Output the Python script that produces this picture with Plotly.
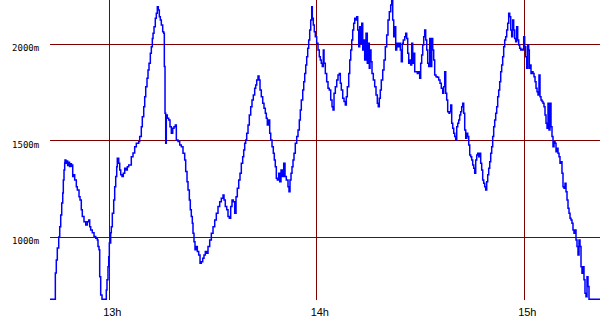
import plotly.graph_objects as go

# time in minutes after 12:00, altitude in metres
minutes = [42.85,44.01,44.39,44.67,44.96,45.37,45.66,45.95,46.24,46.53,46.70,46.90,47.10,47.19,47.45,47.70,47.95,48.20,48.50,48.80,49.05,49.21,49.42,49.79,49.99,50.46,50.75,51.24,51.53,51.90,52.19,52.68,53.18,53.64,54.04,54.33,54.62,55.08,55.58,56.07,56.53,56.73,57.02,57.22,57.51,57.89,58.47,58.84,59.13,59.33,59.62,59.83,60.00,60.40,60.58,60.87,61.27,61.56,61.85,62.14,62.31,62.72,63.01,63.30,63.67,64.05,64.45,64.83,65.21,65.61,65.99,66.36,66.85,67.34,67.81,68.50,68.79,69.25,69.54,69.95,70.24,70.53,70.90,71.19,71.48,71.86,72.15,72.44,72.64,72.93,73.30,73.59,73.88,74.17,74.46,74.75,75.04,75.44,75.73,75.91,76.11,76.31,76.48,76.77,77.18,77.55,77.93,78.33,78.71,79.09,79.38,79.87,80.36,80.82,81.31,81.80,82.09,82.47,82.76,83.14,83.42,83.71,84.00,84.20,84.49,84.78,85.16,85.45,85.85,86.23,86.60,87.01,87.38,87.76,88.16,88.54,89.03,89.50,89.99,90.48,90.94,91.43,91.92,92.39,92.88,93.17,93.54,93.95,94.32,94.70,95.10,95.48,95.86,96.26,96.64,97.01,97.42,97.79,98.17,98.57,98.86,99.15,99.44,99.73,100.11,100.48,100.89,101.26,101.64,102.04,102.33,102.62,103.00,103.29,103.58,103.95,104.36,104.73,105.11,105.40,105.69,106.09,106.38,106.67,107.05,107.42,107.71,108.00,108.29,108.58,108.99,109.28,109.65,110.02,110.43,110.81,111.18,111.67,111.96,112.25,112.54,112.83,113.12,113.41,113.78,114.19,114.57,114.94,115.23,115.52,115.93,116.22,116.51,116.80,117.08,117.37,117.66,117.95,118.24,118.53,118.70,118.99,119.28,119.57,119.97,120.35,120.72,121.01,121.30,121.59,121.88,122.09,122.46,122.86,123.24,123.61,124.02,124.40,124.69,124.98,125.35,125.76,126.13,126.51,126.80,127.09,127.49,127.87,128.24,128.53,128.82,129.23,129.52,129.81,130.10,130.38,130.67,130.96,131.25,131.54,131.83,132.12,132.41,132.70,132.99,133.28,133.57,133.85,134.23,134.60,134.89,135.18,135.39,135.67,135.96,136.34,136.74,137.12,137.50,137.78,138.07,138.36,138.65,139.06,139.43,139.81,140.21,140.59,140.97,141.37,141.66,141.95,142.24,142.53,142.82,143.11,143.48,143.86,144.15,144.44,144.73,145.01,145.42,145.71,146.00,146.29,146.58,146.87,147.15,147.44,147.73,148.02,148.31,148.69,149.06,149.47,149.76,150.04,150.33,150.62,150.91,151.20,151.49,151.78,152.07,152.36,152.65,152.94,153.23,153.52,153.80,154.09,154.47,154.85,155.25,155.63,156.00,156.41,156.70,156.99,157.28,157.56,157.85,158.23,158.43,158.72,159.01,159.30,159.59,159.88,160.17,160.46,160.75,161.04,161.32,161.61,161.90,162.19,162.48,162.77,163.06,163.35,163.64,163.93,164.22,164.50,164.79,165.08,165.37,165.66,165.95,166.24,166.53,166.82,167.11,167.39,167.68,167.97,168.26,168.55,168.84,169.13,169.42,169.71,170.00,170.29,170.57,170.86,171.15,171.44,171.73,172.02,172.31,172.60,172.89,173.18,173.46,173.75,174.04,174.33,174.62,174.91,175.20,175.49,175.78,176.07,176.35,176.64,176.93,177.22,177.51,177.80,178.09,178.38,178.67,178.96,179.33,179.62,179.83,180.12,180.41,180.70,180.98,181.27,181.45,181.65,181.94,182.23,182.52,182.81,183.10,183.39,183.68,183.96,184.25,184.54,184.83,185.12,185.41,185.70,185.99,186.28,186.57,186.86,187.14,187.43,187.72,188.01,188.30,188.59,188.88,189.17,189.46,189.75,190.04,190.32,190.61,190.90,191.19,191.48,191.77,192.06,192.35,192.64,192.93,193.22,193.50,193.79,194.08,194.37,194.66,194.95,195.24,195.53,195.82,196.11,196.40,196.68,196.97,197.26,197.55,197.84,198.13,198.42,198.71,201.89]

altitude = [680,680,816,883,945,1002,1054,1116,1178,1229,1297,1348,1385,1400,1383,1395,1372,1388,1366,1380,1368,1374,1314,1323,1297,1262,1245,1210,1193,1142,1107,1081,1064,1081,1090,1055,1038,1023,1004,995,986,952,935,796,702,680,680,680,728,780,848,900,971,1023,1055,1124,1193,1262,1314,1365,1409,1383,1348,1323,1314,1331,1357,1348,1365,1374,1374,1417,1436,1469,1486,1495,1521,1572,1624,1676,1727,1779,1823,1866,1900,1952,1986,2029,2055,2089,2133,2159,2193,2176,2141,2124,2098,2064,2055,1883,1642,1486,1633,1616,1607,1572,1538,1564,1572,1581,1504,1495,1478,1469,1435,1400,1340,1288,1245,1193,1142,1107,1073,1021,977,935,952,926,909,866,874,892,909,926,918,952,986,1021,1055,1090,1124,1159,1184,1202,1219,1193,1159,1142,1107,1099,1159,1193,1184,1124,1210,1254,1297,1331,1383,1417,1452,1486,1504,1538,1581,1633,1676,1710,1736,1771,1788,1814,1834,1814,1762,1727,1693,1667,1642,1616,1581,1607,1538,1504,1469,1435,1400,1365,1305,1297,1331,1288,1348,1314,1383,1314,1297,1262,1236,1297,1331,1365,1400,1435,1486,1521,1555,1607,1659,1710,1762,1805,1848,1891,1934,1978,2021,2072,2124,2193,2133,2098,2064,2038,2004,1969,1934,1917,1900,1883,1969,1900,1848,1805,1771,1762,1710,1676,1659,1745,1779,1814,1840,1848,1797,1762,1719,1702,1685,1727,1779,1848,1917,1969,2021,2072,2107,2133,2124,2141,2072,1986,2089,2004,2107,1969,2021,1917,2055,1900,2004,1874,1969,1908,1848,1814,1779,1736,1693,1676,1719,1762,1814,1866,1917,1986,2046,2124,2167,2202,2226,2124,2038,2089,1969,2004,1986,2004,1969,1908,2004,2021,2038,2055,2029,1952,1900,1917,1891,2004,1900,1952,1857,1857,1848,1857,1823,1900,1943,1995,2038,2072,2021,1969,1900,1883,2029,1883,2029,1969,1917,1840,1831,1828,1814,1797,1771,1745,1779,1857,1745,1710,1650,1642,1650,1685,1590,1564,1538,1521,1504,1572,1590,1607,1633,1650,1676,1693,1642,1555,1512,1538,1521,1478,1426,1417,1400,1374,1357,1331,1400,1426,1435,1417,1435,1383,1348,1297,1280,1262,1245,1288,1323,1357,1391,1435,1469,1521,1572,1607,1642,1676,1727,1762,1805,1857,1891,1934,1986,2021,2038,2072,2107,2159,2141,2072,2038,2124,2072,2029,2012,2089,2021,1995,1978,1969,1973,1969,2038,1986,1934,1874,1995,1969,1874,1891,1848,1857,1848,1831,1805,1771,1753,1736,1840,1727,1710,1702,1693,1676,1633,1590,1564,1693,1555,1693,1572,1521,1469,1495,1486,1443,1461,1435,1417,1383,1391,1331,1262,1254,1280,1236,1193,1150,1124,1099,1090,1073,1038,1021,1038,986,952,909,986,952,848,814,848,780,711,693,796,745,680,680]

hour_ticks = [60, 120, 180]
hour_labels = ["13h", "14h", "15h"]
alt_ticks = [1000, 1500, 2000]
alt_labels = ["1000m", "1500m", "2000m"]

fig = go.Figure()
fig.add_trace(go.Scatter(
    x=minutes, y=altitude, mode="lines",
    line=dict(color="#0000ff", width=1.5, shape="hv"),
    hoverinfo="skip", showlegend=False,
))

fig.update_layout(
    width=600, height=330,
    margin=dict(l=50, r=0, t=0, b=30),
    paper_bgcolor="white", plot_bgcolor="white",
    showlegend=False,
    xaxis=dict(
        range=[42.85, 201.89], tickvals=hour_ticks, ticktext=hour_labels,
        showgrid=True, gridcolor="#800000", gridwidth=1.2,
        zeroline=False, showline=False,
        ticks="outside", ticklen=2, tickcolor="rgba(0,0,0,0)",
        ticklabelshift=3,
        tickfont=dict(family="Liberation Sans, Arial", size=11, color="black"),
        fixedrange=True,
    ),
    yaxis=dict(
        range=[675.7, 2227.6], tickvals=alt_ticks, ticktext=alt_labels,
        showgrid=True, gridcolor="#800000", gridwidth=1.2,
        zeroline=False, showline=False,
        ticks="outside", ticklen=8, tickcolor="rgba(0,0,0,0)",
        ticklabelshift=4,
        tickfont=dict(family="DejaVu Sans Mono", size=9, color="black"),
        fixedrange=True,
    ),
)

fig.write_html("out.html", config={"displayModeBar": False})
